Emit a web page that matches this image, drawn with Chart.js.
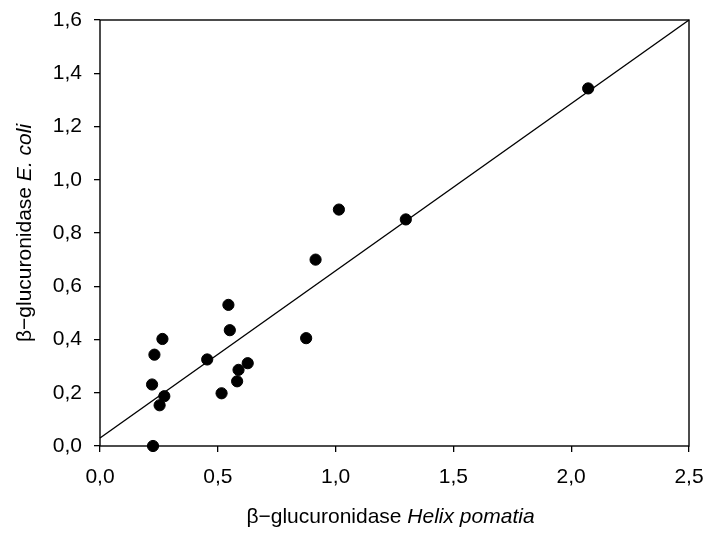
<!DOCTYPE html>
<html lang="en">
<head>
    <meta charset="UTF-8">
    <title>β-glucuronidase</title>
    <style>
        body {
            margin: 0;
            background-color: white;
        }
        #wrap {
            width: 708px;
            height: 533px;
        }
    </style>
</head>
<body>
    <div id="wrap">
        <canvas id="grafica" width="708" height="533"></canvas>
    </div>

    <script src="https://cdn.jsdelivr.net/npm/chart.js"></script>
    <script>
        // Medidas: Helix pomatia (x) frente a E. coli (y)
        const helixPomatia = [0.225, 0.221, 0.231, 0.265, 0.253, 0.273, 0.455, 0.516, 0.545,
                              0.551, 0.582, 0.588, 0.627, 0.875, 0.915, 1.014, 1.298, 2.072];
        const eColi = [0.000, 0.231, 0.343, 0.402, 0.153, 0.187, 0.325, 0.198, 0.530,
                       0.435, 0.243, 0.286, 0.311, 0.405, 0.700, 0.888, 0.851, 1.343];

        // Recta de regresión (extremos)
        const rectaX = [0, 2.5];
        const rectaY = [0.03, 1.6];

        const ticksX = [0, 0.5, 1.0, 1.5, 2.0, 2.5];
        const ticksY = [0, 0.2, 0.4, 0.6, 0.8, 1.0, 1.2, 1.4, 1.6];

        const fuente = 'Arial, "Liberation Sans", sans-serif';
        const tam = 21;
        const coma = v => v.toFixed(1).replace('.', ',');

        // Marco y títulos de los ejes (con partes en cursiva)
        const marcoYTitulos = {
            id: 'marcoYTitulos',
            afterDraw(chart) {
                const ctx = chart.ctx;
                const a = chart.chartArea;
                ctx.save();
                ctx.strokeStyle = '#000';
                ctx.lineWidth = 1.4;
                ctx.strokeRect(a.left, a.top, a.right - a.left, a.bottom - a.top);

                function textoMixto(partes, cx, base) {
                    let total = 0;
                    partes.forEach(p => {
                        ctx.font = (p.italic ? 'italic ' : '') + tam + 'px ' + fuente;
                        p.w = ctx.measureText(p.t).width;
                        total += p.w;
                    });
                    let x = cx - total / 2;
                    ctx.textBaseline = 'alphabetic';
                    ctx.textAlign = 'left';
                    partes.forEach(p => {
                        ctx.font = (p.italic ? 'italic ' : '') + tam + 'px ' + fuente;
                        ctx.fillText(p.t, x, base);
                        x += p.w;
                    });
                }

                ctx.fillStyle = '#000';
                textoMixto([{ t: 'β−glucuronidase ' }, { t: 'Helix pomatia', italic: true }],
                    (a.left + a.right) / 2 - 4, 523);

                ctx.translate(31, (a.top + a.bottom) / 2);
                ctx.rotate(-Math.PI / 2);
                textoMixto([{ t: 'β−glucuronidase ' }, { t: 'E. coli', italic: true }], 0, 0);
                ctx.restore();
            }
        };

        const ctx = document.getElementById('grafica').getContext('2d');
        new Chart(ctx, {
            type: 'scatter',
            data: {
                datasets: [
                    {
                        label: 'Muestras',
                        data: helixPomatia.map((x, i) => ({ x: x, y: eColi[i] })),
                        backgroundColor: '#000',
                        borderColor: '#000',
                        pointRadius: 5.6,
                        pointHoverRadius: 5.6
                    },
                    {
                        label: 'Regresión',
                        type: 'line',
                        data: rectaX.map((x, i) => ({ x: x, y: rectaY[i] })),
                        borderColor: '#000',
                        borderWidth: 1.4,
                        pointRadius: 0,
                        fill: false
                    }
                ]
            },
            options: {
                responsive: false,
                animation: false,
                clip: false,
                layout: { padding: { top: 20, right: 19, left: 0, bottom: 0 } },
                plugins: {
                    legend: { display: false },
                    tooltip: { enabled: false }
                },
                scales: {
                    x: {
                        type: 'linear',
                        min: 0,
                        max: 2.5,
                        afterBuildTicks: s => { s.ticks = ticksX.map(v => ({ value: v })); },
                        afterFit: s => {
                            s.height = 87;
                            s.paddingLeft = 0;
                            s.paddingRight = 0;
                        },
                        border: { display: false },
                        grid: { drawOnChartArea: false, drawTicks: true, tickLength: 6, color: '#000', lineWidth: 1.3 },
                        ticks: {
                            color: '#000',
                            font: { family: fuente, size: tam },
                            padding: 13,
                            maxRotation: 0,
                            callback: v => coma(v)
                        }
                    },
                    y: {
                        type: 'linear',
                        min: 0,
                        max: 1.6,
                        afterBuildTicks: s => { s.ticks = ticksY.map(v => ({ value: v })); },
                        afterFit: s => {
                            s.width = 100;
                            s.paddingTop = 0;
                            s.paddingBottom = 0;
                        },
                        border: { display: false },
                        grid: { drawOnChartArea: false, drawTicks: true, tickLength: 6, color: '#000', lineWidth: 1.3 },
                        ticks: {
                            color: '#000',
                            font: { family: fuente, size: tam },
                            padding: 12,
                            callback: v => coma(v)
                        }
                    }
                }
            },
            plugins: [marcoYTitulos]
        });
    </script>
</body>
</html>
